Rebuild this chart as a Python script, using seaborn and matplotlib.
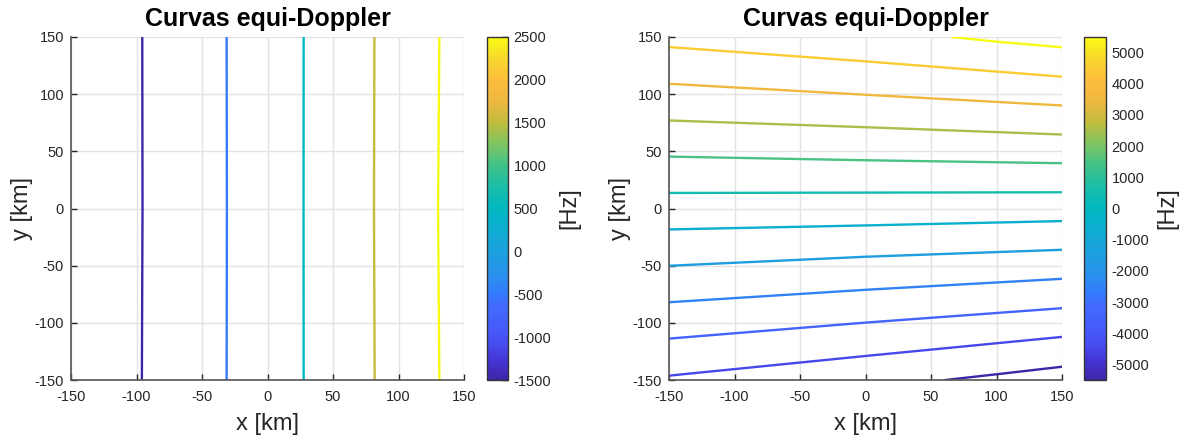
import numpy as np
import pandas as pd
import matplotlib
matplotlib.use("Agg")
import matplotlib.pyplot as plt
from matplotlib.colors import LinearSegmentedColormap, Normalize
from matplotlib.cm import ScalarMappable
import seaborn as sns

# ---- Left panel: equi-Doppler contours (nearly vertical), x position at y samples ----
left_levels = [-1500, -500, 500, 1500, 2500]
left_y_samples = [-150, 0, 150]
left_x_south = [-95.9, -31.2, 27.6, 81.8, 131.2]
left_x_mid = [-95.4, -31.0, 27.5, 81.3, 130.2]
left_x_north = [-95.6, -31.2, 27.6, 81.6, 131.2]
left_cbar_ticks = [-1500, -1000, -500, 0, 500, 1000, 1500, 2000, 2500]

# ---- Right panel: equi-Doppler contours (nearly horizontal), y position at x samples ----
right_levels = [-4500, -3500, -2500, -1500, -500, 500, 1500, 2500, 3500, 4500]
right_x_samples = [-150, 0, 150]
right_y_west = [-146.2, -113.8, -82.0, -50.1, -18.3, 13.6, 45.4, 77.0, 109.1, 141.2]
right_y_mid = [-129.0, -99.8, -71.1, -42.2, -14.8, 13.9, 42.2, 71.1, 99.5, 128.7]
right_y_east = [-112.3, -87.2, -61.5, -36.1, -11.0, 14.2, 39.6, 64.7, 90.1, 115.3]
# contours clipped by the domain corners
right_top_level = 5500
right_top_x = [66.1, 100, 150]
right_top_y = [150, 145.9, 141.0]
right_bottom_level = -5500
right_bottom_x = [60.9, 100, 150]
right_bottom_y = [-150, -145.0, -138.4]
right_cbar_ticks = [-5000, -4000, -3000, -2000, -1000, 0, 1000, 2000, 3000, 4000, 5000]

# parula-like colour map
parula_pos = [0.0, 0.05, 0.10, 0.15, 0.22, 0.25, 0.31, 0.375, 0.44, 0.50,
              0.56, 0.625, 0.69, 0.75, 0.81, 0.875, 0.94, 1.0]
parula_rgb = [(0.2422, 0.1504, 0.6603), (0.2670, 0.2000, 0.8100),
              (0.2810, 0.2930, 0.9350), (0.2770, 0.3600, 0.9800),
              (0.2517, 0.4261, 0.9974), (0.2000, 0.4800, 0.9900),
              (0.1600, 0.5700, 0.9200), (0.1100, 0.6300, 0.8700),
              (0.0500, 0.6800, 0.8200), (0.0100, 0.7200, 0.7600),
              (0.1000, 0.7400, 0.6600), (0.2500, 0.7600, 0.5400),
              (0.5000, 0.7700, 0.3800), (0.7500, 0.7400, 0.2400),
              (0.9300, 0.7200, 0.2500), (0.9900, 0.7400, 0.2400),
              (0.9700, 0.8500, 0.1700), (0.9769, 0.9839, 0.0805)]
parula = LinearSegmentedColormap.from_list("parula", list(zip(parula_pos, parula_rgb)))

sns.set_theme(style="white")
plt.rcParams["font.family"] = ["Liberation Sans", "DejaVu Sans"]
plt.rcParams["axes.unicode_minus"] = False
plt.rcParams["axes.edgecolor"] = "#404040"
plt.rcParams["xtick.color"] = "#262626"
plt.rcParams["ytick.color"] = "#262626"

# long-form tables for seaborn
left_rows = []
for i, lev in enumerate(left_levels):
    xs = [left_x_south[i], left_x_mid[i], left_x_north[i]]
    for xv, yv in zip(xs, left_y_samples):
        left_rows.append({"x": xv, "y": yv, "level": lev})
left_df = pd.DataFrame(left_rows)

right_rows = []
for i, lev in enumerate(right_levels):
    ys = [right_y_west[i], right_y_mid[i], right_y_east[i]]
    for xv, yv in zip(right_x_samples, ys):
        right_rows.append({"x": xv, "y": yv, "level": lev})
for xv, yv in zip(right_top_x, right_top_y):
    right_rows.append({"x": xv, "y": yv, "level": right_top_level})
for xv, yv in zip(right_bottom_x, right_bottom_y):
    right_rows.append({"x": xv, "y": yv, "level": right_bottom_level})
right_df = pd.DataFrame(right_rows)

W, H = 1192, 441
fig = plt.figure(figsize=(W / 100, H / 100), dpi=100)


def px_rect(x0, y0, x1, y1):
    return [x0 / W, 1 - y1 / H, (x1 - x0) / W, (y1 - y0) / H]


ax_l = fig.add_axes(px_rect(71, 37, 464, 380))
cax_l = fig.add_axes(px_rect(487, 37, 508, 380))
ax_r = fig.add_axes(px_rect(669, 37, 1062, 380))
cax_r = fig.add_axes(px_rect(1084, 37, 1106, 380))


def style_axes(ax):
    ax.set_xlim(-150, 150)
    ax.set_ylim(-150, 150)
    ax.set_xticks(np.arange(-150, 151, 50))
    ax.set_yticks(np.arange(-150, 151, 50))
    ax.grid(True, color="#e3e3e3", linewidth=1.0)
    ax.set_axisbelow(True)
    for side in ("top", "right"):
        ax.spines[side].set_visible(False)
    for side in ("left", "bottom"):
        ax.spines[side].set_linewidth(1.2)
        ax.spines[side].set_color("#555555")
    ax.tick_params(direction="in", length=4, width=1, labelsize=10.5,
                   colors="#262626", bottom=True, left=True)
    ax.tick_params(axis="x", pad=7)
    ax.tick_params(axis="y", pad=5)
    ax.set_xlabel("x [km]", fontsize=17, labelpad=7, color="#262626")
    ax.set_ylabel("y [km]", fontsize=17, labelpad=1, color="#262626")
    ax.set_title("Curvas equi-Doppler", fontsize=18, fontweight="bold",
                 pad=8, color="black")


def draw_cbar(cax, vmin, vmax, ticks):
    sm = ScalarMappable(norm=Normalize(vmin, vmax), cmap=parula)
    cb = fig.colorbar(sm, cax=cax, ticks=ticks)
    cb.outline.set_edgecolor("#333333")
    cb.outline.set_linewidth(1.0)
    cax.tick_params(direction="in", length=4, width=1, labelsize=10.5,
                    colors="#262626", pad=4)
    cb.set_label("[Hz]", fontsize=17, labelpad=5, color="#262626")
    return cb


sns.lineplot(data=left_df, x="x", y="y", hue="level", units="level",
             estimator=None, sort=False, palette=parula,
             hue_norm=(-1500, 2500), linewidth=1.7, legend=False, ax=ax_l)
style_axes(ax_l)
draw_cbar(cax_l, -1500, 2500, left_cbar_ticks)

sns.lineplot(data=right_df, x="x", y="y", hue="level", units="level",
             estimator=None, sort=False, palette=parula,
             hue_norm=(-5500, 5500), linewidth=1.7, legend=False, ax=ax_r)
style_axes(ax_r)
draw_cbar(cax_r, -5500, 5500, right_cbar_ticks)

fig.savefig("out.png", dpi=100, facecolor="white")
